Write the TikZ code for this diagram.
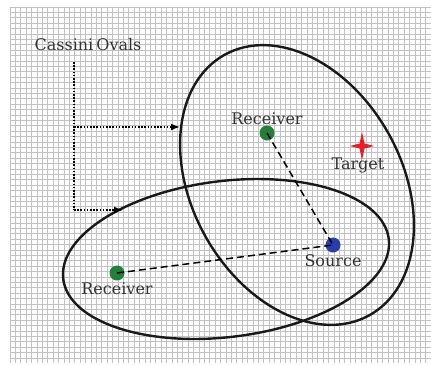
\documentclass[tikz,border=0pt]{standalone}
\usepackage{fontspec}
\setmainfont{DejaVu Serif}
\usetikzlibrary{arrows.meta}
\definecolor{rxgreen}{RGB}{34,128,58}
\definecolor{srcblue}{RGB}{40,62,175}
\definecolor{tgtred}{RGB}{235,30,35}
\begin{document}
\begin{tikzpicture}[x=1pt,y=-1pt,
	txt/.style={font=\fontsize{16}{19}\selectfont, text=black!80},
	dot/.style={circle,minimum size=15pt,inner sep=0pt},
	oval/.style={line width=2.4pt, black!90},
	gridline/.style={black!24, line width=0.7pt},
	pointer/.style={line width=1.7pt, dash pattern=on 1.6pt off 1.6pt, -{Latex[length=9pt,width=7pt]}}]
		\useasboundingbox (0,0) rectangle (431,365);
		% squared paper
		\foreach \gx in {0,...,77}
			\draw[gridline] (10+5.4*\gx,7) -- (10+5.4*\gx,363);
		\foreach \gy in {0,...,65}
			\draw[gridline] (10,7+5.4*\gy) -- (431,7+5.4*\gy);
		
		\node[txt] (cassini) at (88,45) {Cassini\hspace{-2pt} Ovals};
		
		\node[dot, fill=rxgreen, label = {[txt, yshift=-3pt]above:Receiver}] (rxA) at (267,133) {};
		\node[dot, fill=rxgreen, label = {[txt, yshift=2pt]below:Receiver}] (rxB) at (117,273) {};
		\node[dot, fill=srcblue, label = {[txt, yshift=2pt]below:Source}] (src) at (333,245) {};
		
		% target
		\fill[tgtred] (362,132) -- (364.5,143.5) -- (374,146) -- (364.5,148.5) -- (362,160) -- (359.5,148.5) -- (350,146) -- (359.5,143.5) -- cycle;
		\node[txt] (target) at (358,165) {Target};
		
		\draw[oval, rotate around={-60.9:(297,185)}] (297,185) ellipse [x radius=149, y radius=105];
		\draw[oval, rotate around={7:(226,259)}] (226,259) ellipse [x radius=164, y radius=78];
		
		\draw[line width=1.5pt, dash pattern=on 7pt off 4pt] (rxA.center) -- (src.center);
		\draw[line width=1.5pt, dash pattern=on 7pt off 4pt] (rxB.center) -- (src.center);
		
		\coordinate (top) at (74,62);
		\coordinate (upper) at (74,127);
		\coordinate (lower) at (74,210);
		\coordinate (hitA) at (180,127);
		\coordinate (hitB) at (123,210);
		\draw[line width=1.7pt, dash pattern=on 1.6pt off 1.6pt] (top) -- (lower);
		\draw[pointer] (upper) -- (hitA);
		\draw[pointer] (lower) -- (hitB);
\end{tikzpicture}
\end{document}
